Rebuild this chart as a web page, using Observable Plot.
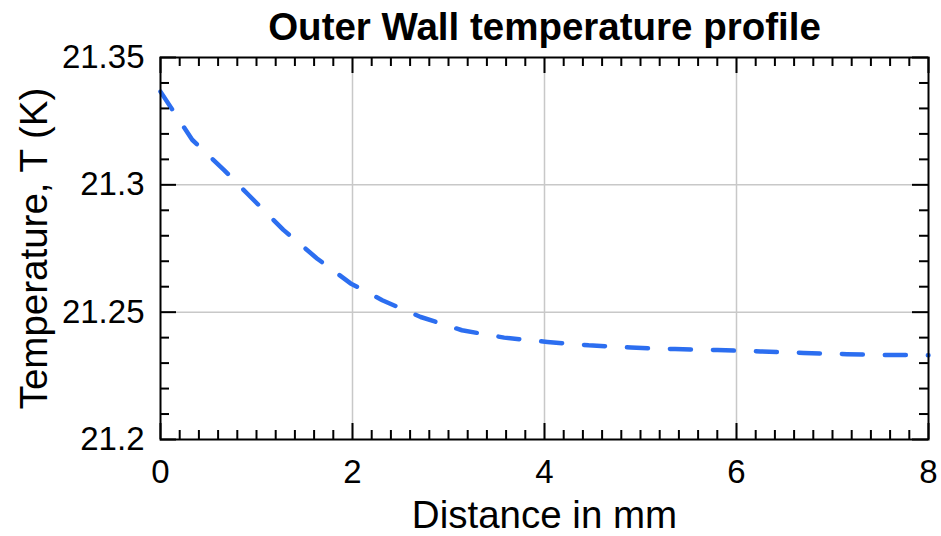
<!DOCTYPE html>
<html>
<head>
<meta charset="utf-8">
<script src="https://cdn.jsdelivr.net/npm/d3@7"></script>
<script src="https://cdn.jsdelivr.net/npm/@observablehq/plot@0.6"></script>
<style>
  html, body { margin: 0; padding: 0; background: white; }
</style>
</head>
<body>
<div id="chart"></div>
<script>
const titleText = "Outer Wall temperature profile";
const xLabel = "Distance in mm";
const yLabel = "Temperature, T (K)";

const distance = [0, 0.33, 0.66, 0.9, 1.28, 1.63, 1.98, 2.31, 2.71, 3.14, 3.58, 4.03, 4.46, 4.9, 5.36, 5.8, 6.25, 6.7, 7.15, 7.58, 8];
const temperature = [21.3366, 21.3177, 21.3059, 21.2967, 21.2823, 21.2711, 21.2613, 21.2547, 21.2481, 21.2429, 21.2400, 21.2383, 21.2370, 21.2361, 21.2355, 21.2351, 21.2346, 21.2340, 21.2335, 21.2332, 21.2331];

const xTicks = [0, 2, 4, 6, 8];
const xTickLabels = ["0", "2", "4", "6", "8"];
const yTicks = [21.2, 21.25, 21.3, 21.35];
const yTickLabels = ["21.2", "21.25", "21.3", "21.35"];
const xGrid = [2, 4, 6];
const yGrid = [21.25, 21.3];

const xMinor = d3.range(1, 40).map(i => i / 5).filter(v => Math.abs(v / 2 - Math.round(v / 2)) > 1e-6);
const yMinor = d3.range(1, 15).map(i => 21.2 + i / 100).filter(v => Math.abs(v * 20 - Math.round(v * 20)) > 1e-6);

const data = distance.map((d, i) => ({x: d, y: temperature[i]}));

const W = 941, H = 536, mL = 160, mR = 13, mT = 57, mB = 97;
const pw = W - mL - mR, ph = H - mT - mB;
const majorLen = 16, minorLen = 9;
const tickStyle = {stroke: "black", strokeWidth: 2};
const font = "'Liberation Sans', Arial, Helvetica, sans-serif";

const chart = Plot.plot({
  width: W, height: H,
  marginLeft: mL, marginRight: mR, marginTop: mT, marginBottom: mB,
  style: {fontFamily: font, background: "white", color: "black"},
  x: {domain: [0, 8]},
  y: {domain: [21.2, 21.35]},
  marks: [
    Plot.gridX(xGrid, {x: d => d, stroke: "#c8c8c8", strokeOpacity: 1, strokeWidth: 1.5}),
    Plot.gridY(yGrid, {y: d => d, stroke: "#c8c8c8", strokeOpacity: 1, strokeWidth: 1.5}),
    Plot.line(data, {x: "x", y: "y", stroke: "#2c6ef0", strokeWidth: 4.5, strokeDasharray: "21,22"}),
    // major ticks, inward, all four sides
    Plot.tickX(xTicks, {x: d => d, insetTop: ph - majorLen, ...tickStyle}),
    Plot.tickX(xTicks, {x: d => d, insetBottom: ph - majorLen, ...tickStyle}),
    Plot.tickY(yTicks, {y: d => d, insetRight: pw - majorLen, ...tickStyle}),
    Plot.tickY(yTicks, {y: d => d, insetLeft: pw - majorLen, ...tickStyle}),
    // minor ticks
    Plot.tickX(xMinor, {x: d => d, insetTop: ph - minorLen, ...tickStyle}),
    Plot.tickX(xMinor, {x: d => d, insetBottom: ph - minorLen, ...tickStyle}),
    Plot.tickY(yMinor, {y: d => d, insetRight: pw - minorLen, ...tickStyle}),
    Plot.tickY(yMinor, {y: d => d, insetLeft: pw - minorLen, ...tickStyle}),
    Plot.frame({stroke: "black", strokeWidth: 2}),
    Plot.axisX({ticks: xTicks, tickSize: 0, tickPadding: 20, label: null, fontSize: 33, fill: "black", tickFormat: d => xTickLabels[xTicks.indexOf(d)]}),
    Plot.axisY({ticks: yTicks, tickSize: 0, tickPadding: 16, label: null, fontSize: 33, fill: "black", tickFormat: d => yTickLabels[yTicks.findIndex(v => Math.abs(v - d) < 1e-9)]}),
    Plot.text([titleText], {text: d => d, frameAnchor: "top", lineAnchor: "middle", dy: -30, fontSize: 38.5, fontWeight: "bold", fill: "black"}),
    Plot.text([xLabel], {text: d => d, frameAnchor: "bottom", lineAnchor: "middle", dy: 76, fontSize: 38.5, fill: "black"}),
    Plot.text([yLabel], {text: d => d, frameAnchor: "left", textAnchor: "middle", lineAnchor: "middle", dx: -126, rotate: -90, fontSize: 38.5, fill: "black"})
  ]
});
document.getElementById("chart").appendChild(chart);
</script>
</body>
</html>
